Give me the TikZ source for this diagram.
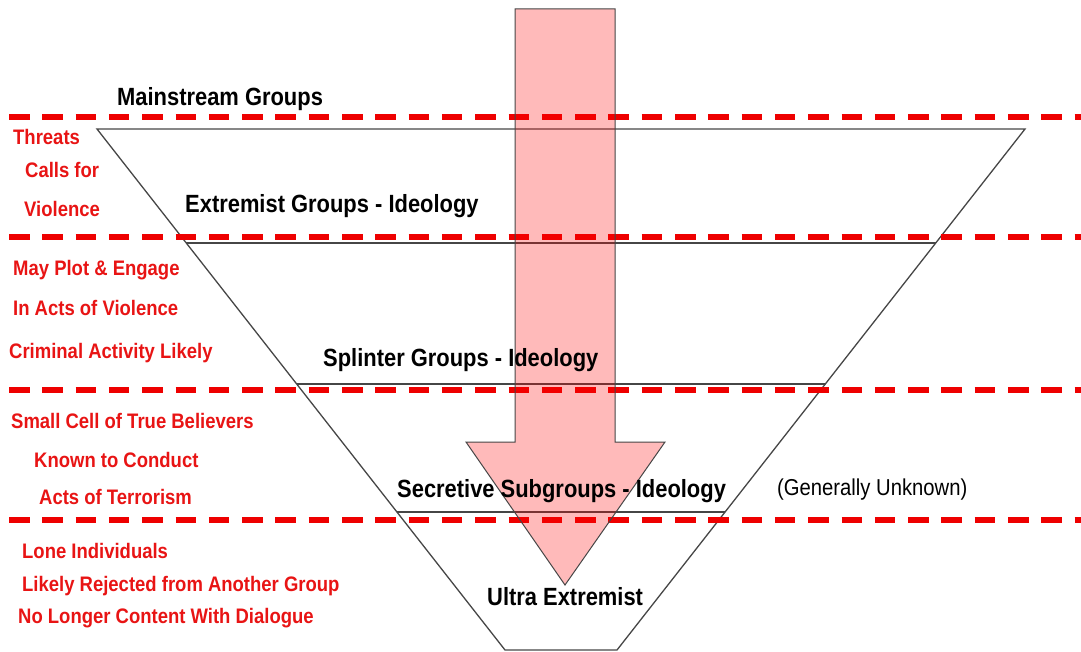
\documentclass[tikz,border=0pt]{standalone}
\usepackage{fontspec}
\setmainfont{Liberation Sans}
\newfontfamily\narrowsans[FakeStretch=0.88]{Liberation Sans}
\usetikzlibrary{calc}
\definecolor{dashred}{RGB}{238,0,0}
\definecolor{txtred}{RGB}{232,20,20}
\definecolor{edgegray}{RGB}{70,70,70}
\tikzset{
  band/.style={draw=dashred, line width=6.5pt, dash pattern=on 20.5pt off 12.8pt},
  funnel/.style={draw=edgegray, line width=1.3pt},
  bigarrow/.style={draw=edgegray, line width=1pt, fill=red, fill opacity=0.27},
  redlab/.style={anchor=base west, inner sep=0pt, text=txtred, font=\narrowsans\bfseries\fontsize{21}{24}\selectfont},
  blklab/.style={anchor=base west, inner sep=0pt, text=black, font=\narrowsans\bfseries\fontsize{24.9}{28}\selectfont},
  notelab/.style={anchor=base west, inner sep=0pt, text=black, font=\narrowsans\fontsize{23}{26}\selectfont}
}
\begin{document}
\begin{tikzpicture}[x=1pt,y=-1pt]
\useasboundingbox (0,0) rectangle (1081,652);
% funnel
\coordinate (TL) at (97,129);
\coordinate (TR) at (1025,129);
\coordinate (BL) at (505,650);
\coordinate (BR) at (617,650);
\draw[funnel] (TL) -- (TR) -- (BR) -- (BL) -- cycle;
\draw[funnel] ($(TL)!0.2188!(BL)$) -- ($(TR)!0.2188!(BR)$);
\draw[funnel] ($(TL)!0.4894!(BL)$) -- ($(TR)!0.4894!(BR)$);
\draw[funnel] ($(TL)!0.7351!(BL)$) -- ($(TR)!0.7351!(BR)$);
% dashed red bands
\draw[band] (9,117) -- (1081,117);
\draw[band] (9,237) -- (1081,237);
\draw[band] (9,390) -- (1081,390);
\draw[band] (9,520) -- (1081,520);
% arrow
\draw[bigarrow] (515,9) -- (615,9) -- (615,442) -- (665,442) -- (565,585) -- (466,442) -- (515,442) -- cycle;
% black labels
\node[blklab] (mainstream) at (117,106) {Mainstream Groups};
\node[blklab] (extremist) at (185,213) {Extremist Groups - Ideology};
\node[blklab] (splinter) at (323,366) {Splinter Groups - Ideology};
\node[blklab] (secretive) at (397,497) {Secretive Subgroups - Ideology};
\node[blklab] (ultra) at (487,605) {Ultra Extremist};
\node[notelab] (unknown) at (777,495) {(Generally Unknown)};
% red labels
\node[redlab] (r1) at (13,145) {Threats};
\node[redlab] (r2) at (25,178) {Calls for};
\node[redlab] (r3) at (24,217) {Violence};
\node[redlab] (r4) at (13,276) {May Plot \& Engage};
\node[redlab] (r5) at (13,315) {In Acts of Violence};
\node[redlab] (r6) at (9,358) {Criminal Activity Likely};
\node[redlab] (r7) at (11,428) {Small Cell of True Believers};
\node[redlab] (r8) at (34,467) {Known to Conduct};
\node[redlab] (r9) at (39,504) {Acts of Terrorism};
\node[redlab] (r10) at (22,558) {Lone Individuals};
\node[redlab] (r11) at (22,591) {Likely Rejected from Another Group};
\node[redlab] (r12) at (18,623) {No Longer Content With Dialogue};
\end{tikzpicture}
\end{document}
